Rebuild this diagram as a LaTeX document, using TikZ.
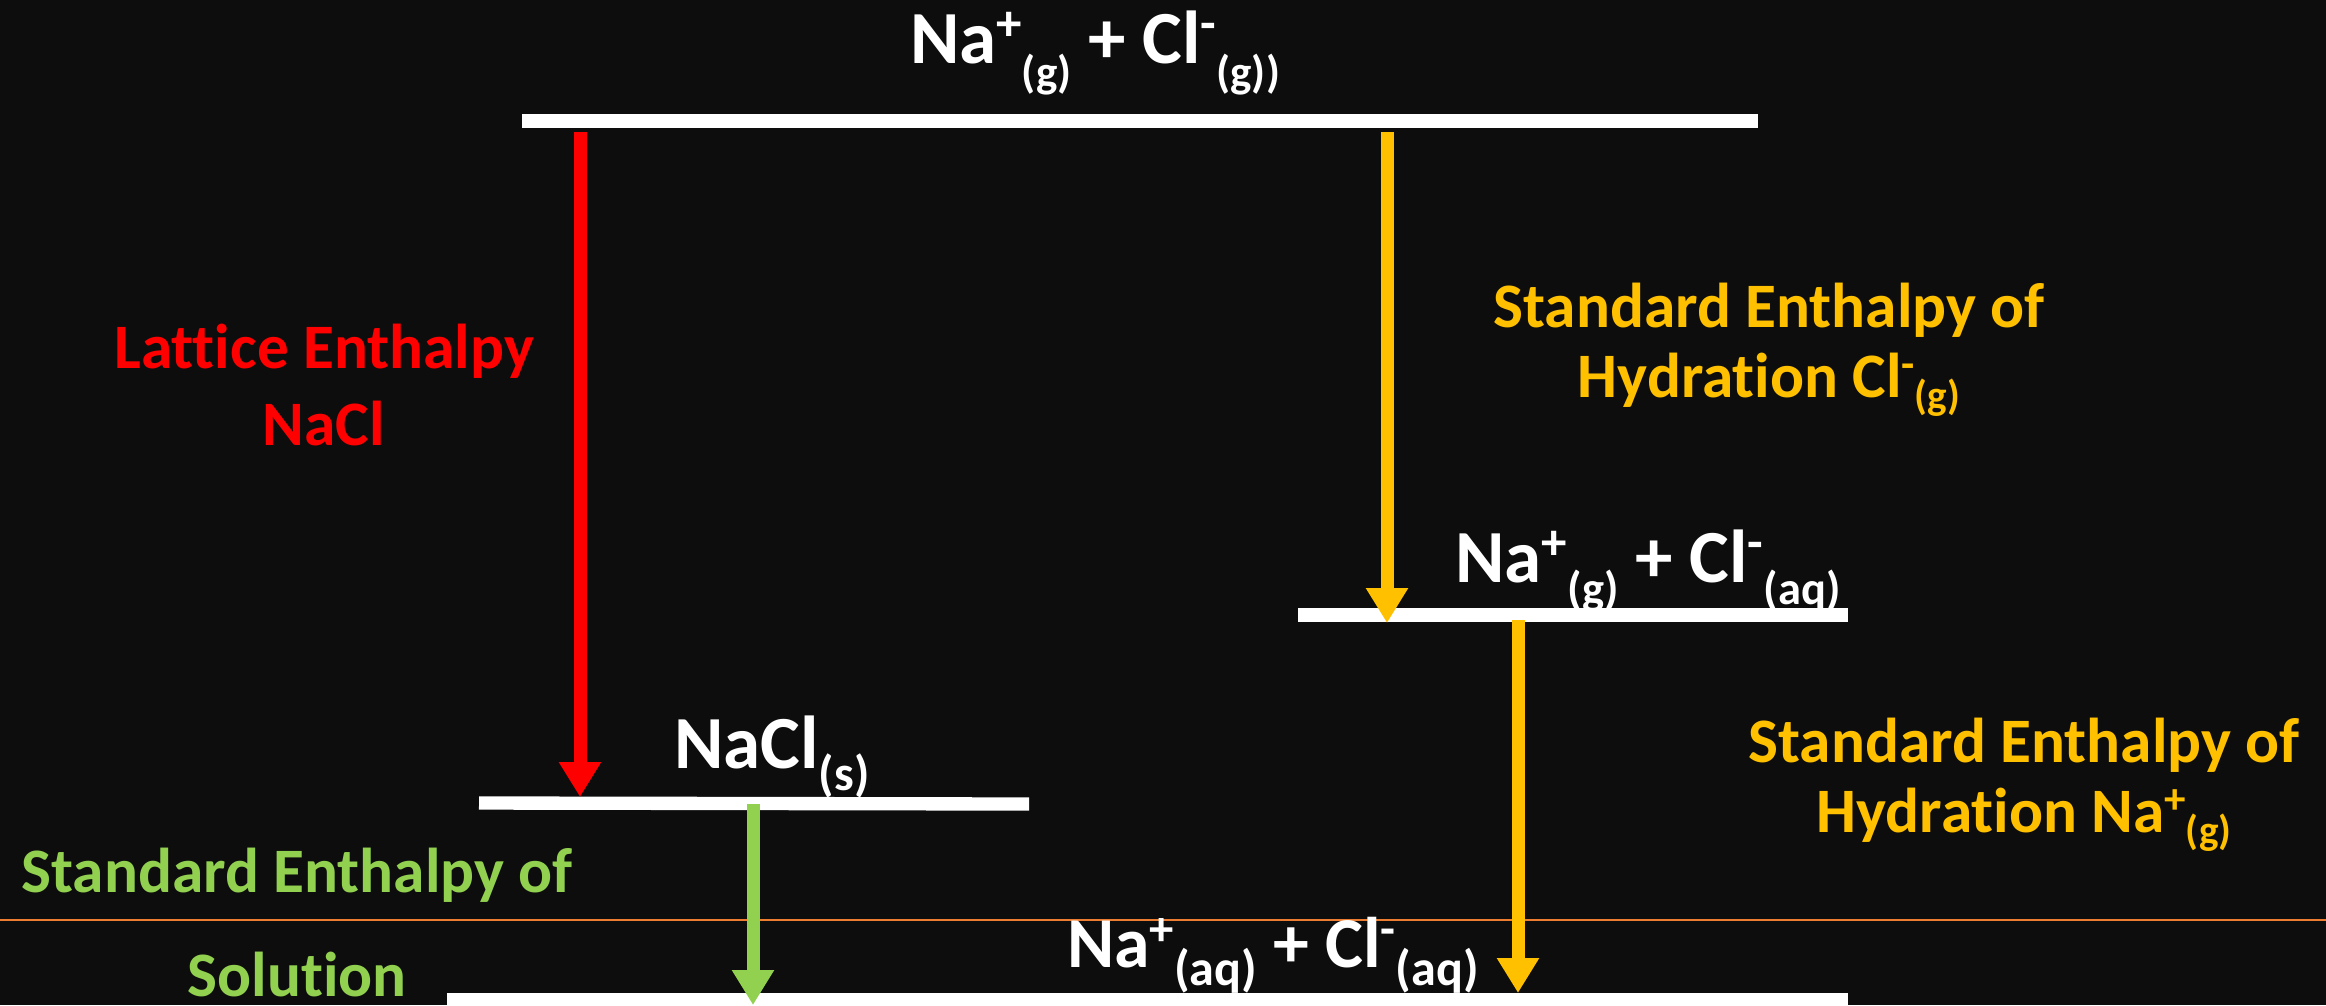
\documentclass[tikz,border=0pt]{standalone}
\usepackage{fontspec}
\setmainfont{Carlito}[Ligatures=NoCommon]
\usepackage{graphicx}
\usetikzlibrary{arrows.meta}
\definecolor{bg}{HTML}{0D0D0D}
\definecolor{latred}{HTML}{FF0000}
\definecolor{hydgold}{HTML}{FFC000}
\definecolor{solgreen}{HTML}{92D050}
\definecolor{refline}{HTML}{ED7D31}
\newcommand{\chsb}[3]{\raisebox{-#2em}{\scalebox{#1}{#3}}}
\newcommand{\chsp}[1]{\raisebox{0.3em}{\scalebox{0.68}{#1}}}
\begin{document}
\begin{tikzpicture}[x=0.3pt,y=-0.3pt,
  level/.style={white, line width=4pt},
  shiftarrow/.style={line width=3.9pt, -{Triangle[width=12pt,length=10.5pt]}},
  species/.style={text=white, font=\bfseries\fontsize{22.5}{26}\selectfont, inner sep=0pt, anchor=base},
  caption/.style={font=\bfseries\fontsize{19}{21}\selectfont, inner sep=0pt, anchor=base, align=center}]

\fill[bg] (0,0) rectangle (2326,1005);
\useasboundingbox (0,0) rectangle (2326,1005);

% thin orange reference line
\coordinate (refL) at (0,920);
\coordinate (refR) at (2326,920);
\draw[refline, line width=0.85pt] (refL) -- (refR);

% energy levels
\coordinate (gasL) at (522,121);   \coordinate (gasR) at (1758,121);
\coordinate (midL) at (1298,615);  \coordinate (midR) at (1848,615);
\coordinate (solL) at (479,803);   \coordinate (solR) at (1029,804);
\coordinate (aqL)  at (447,1000);  \coordinate (aqR)  at (1848,1000);
\draw[level] (gasL) -- (gasR);
\draw[level] (midL) -- (midR);
\draw[level] (solL) -- (solR);
\draw[level] (aqL) -- (aqR);

% arrow end points
\coordinate (latS) at (580,132);  \coordinate (latE) at (580,797);
\coordinate (clS)  at (1387,132); \coordinate (clE)  at (1387,623);
\coordinate (naS)  at (1518,620); \coordinate (naE)  at (1518,993);
\coordinate (dsS)  at (753,804);  \coordinate (dsE)  at (753,1005);

\draw[shiftarrow, latred]   (latS) -- (latE);
\draw[shiftarrow, hydgold]  (clS) -- (clE);
\draw[shiftarrow, hydgold]  (naS) -- (naE);
\draw[shiftarrow, solgreen] (dsS) -- (dsE);

% species labels
\node[species] (gaslab) at (1095,63) {Na\chsp{+}\chsb{0.6}{0.33}{(g)} + Cl\chsp{-}\chsb{0.6}{0.33}{(g))}};
\node[species] (midlab) at (1648,582) {Na\chsp{+}\chsb{0.62}{0.3}{(g)} + Cl\chsp{-}\chsb{0.62}{0.3}{(aq)}};
\node[species] (sollab) at (772,768) {NaCl\chsb{0.66}{0.3}{(s)}};
\node[species, font=\bfseries\fontsize{21.5}{25}\selectfont] (aqlab) at (1273,967) {Na\chsp{+}\chsb{0.7}{0.26}{(aq)} + Cl\chsp{-}\chsb{0.7}{0.26}{(aq)}};

% captions (anchor = baseline of last line)
\node[caption, text=latred, font=\bfseries\fontsize{19}{23}\selectfont] (latlab) at (324,445) {Lattice Enthalpy\\NaCl};
\node[caption, text=hydgold] (cllab) at (1769,397) {Standard Enthalpy of\\Hydration Cl\chsp{-}\chsb{0.65}{0.2}{(g)}};
\node[caption, text=hydgold] (nalab) at (2024,832) {Standard Enthalpy of\\Hydration Na\chsp{+}\chsb{0.65}{0.2}{(g)}};
\node[caption, text=solgreen, font=\bfseries\fontsize{19}{31}\selectfont] (dslab) at (297,996) {Standard Enthalpy of\\Solution};
\end{tikzpicture}
\end{document}
